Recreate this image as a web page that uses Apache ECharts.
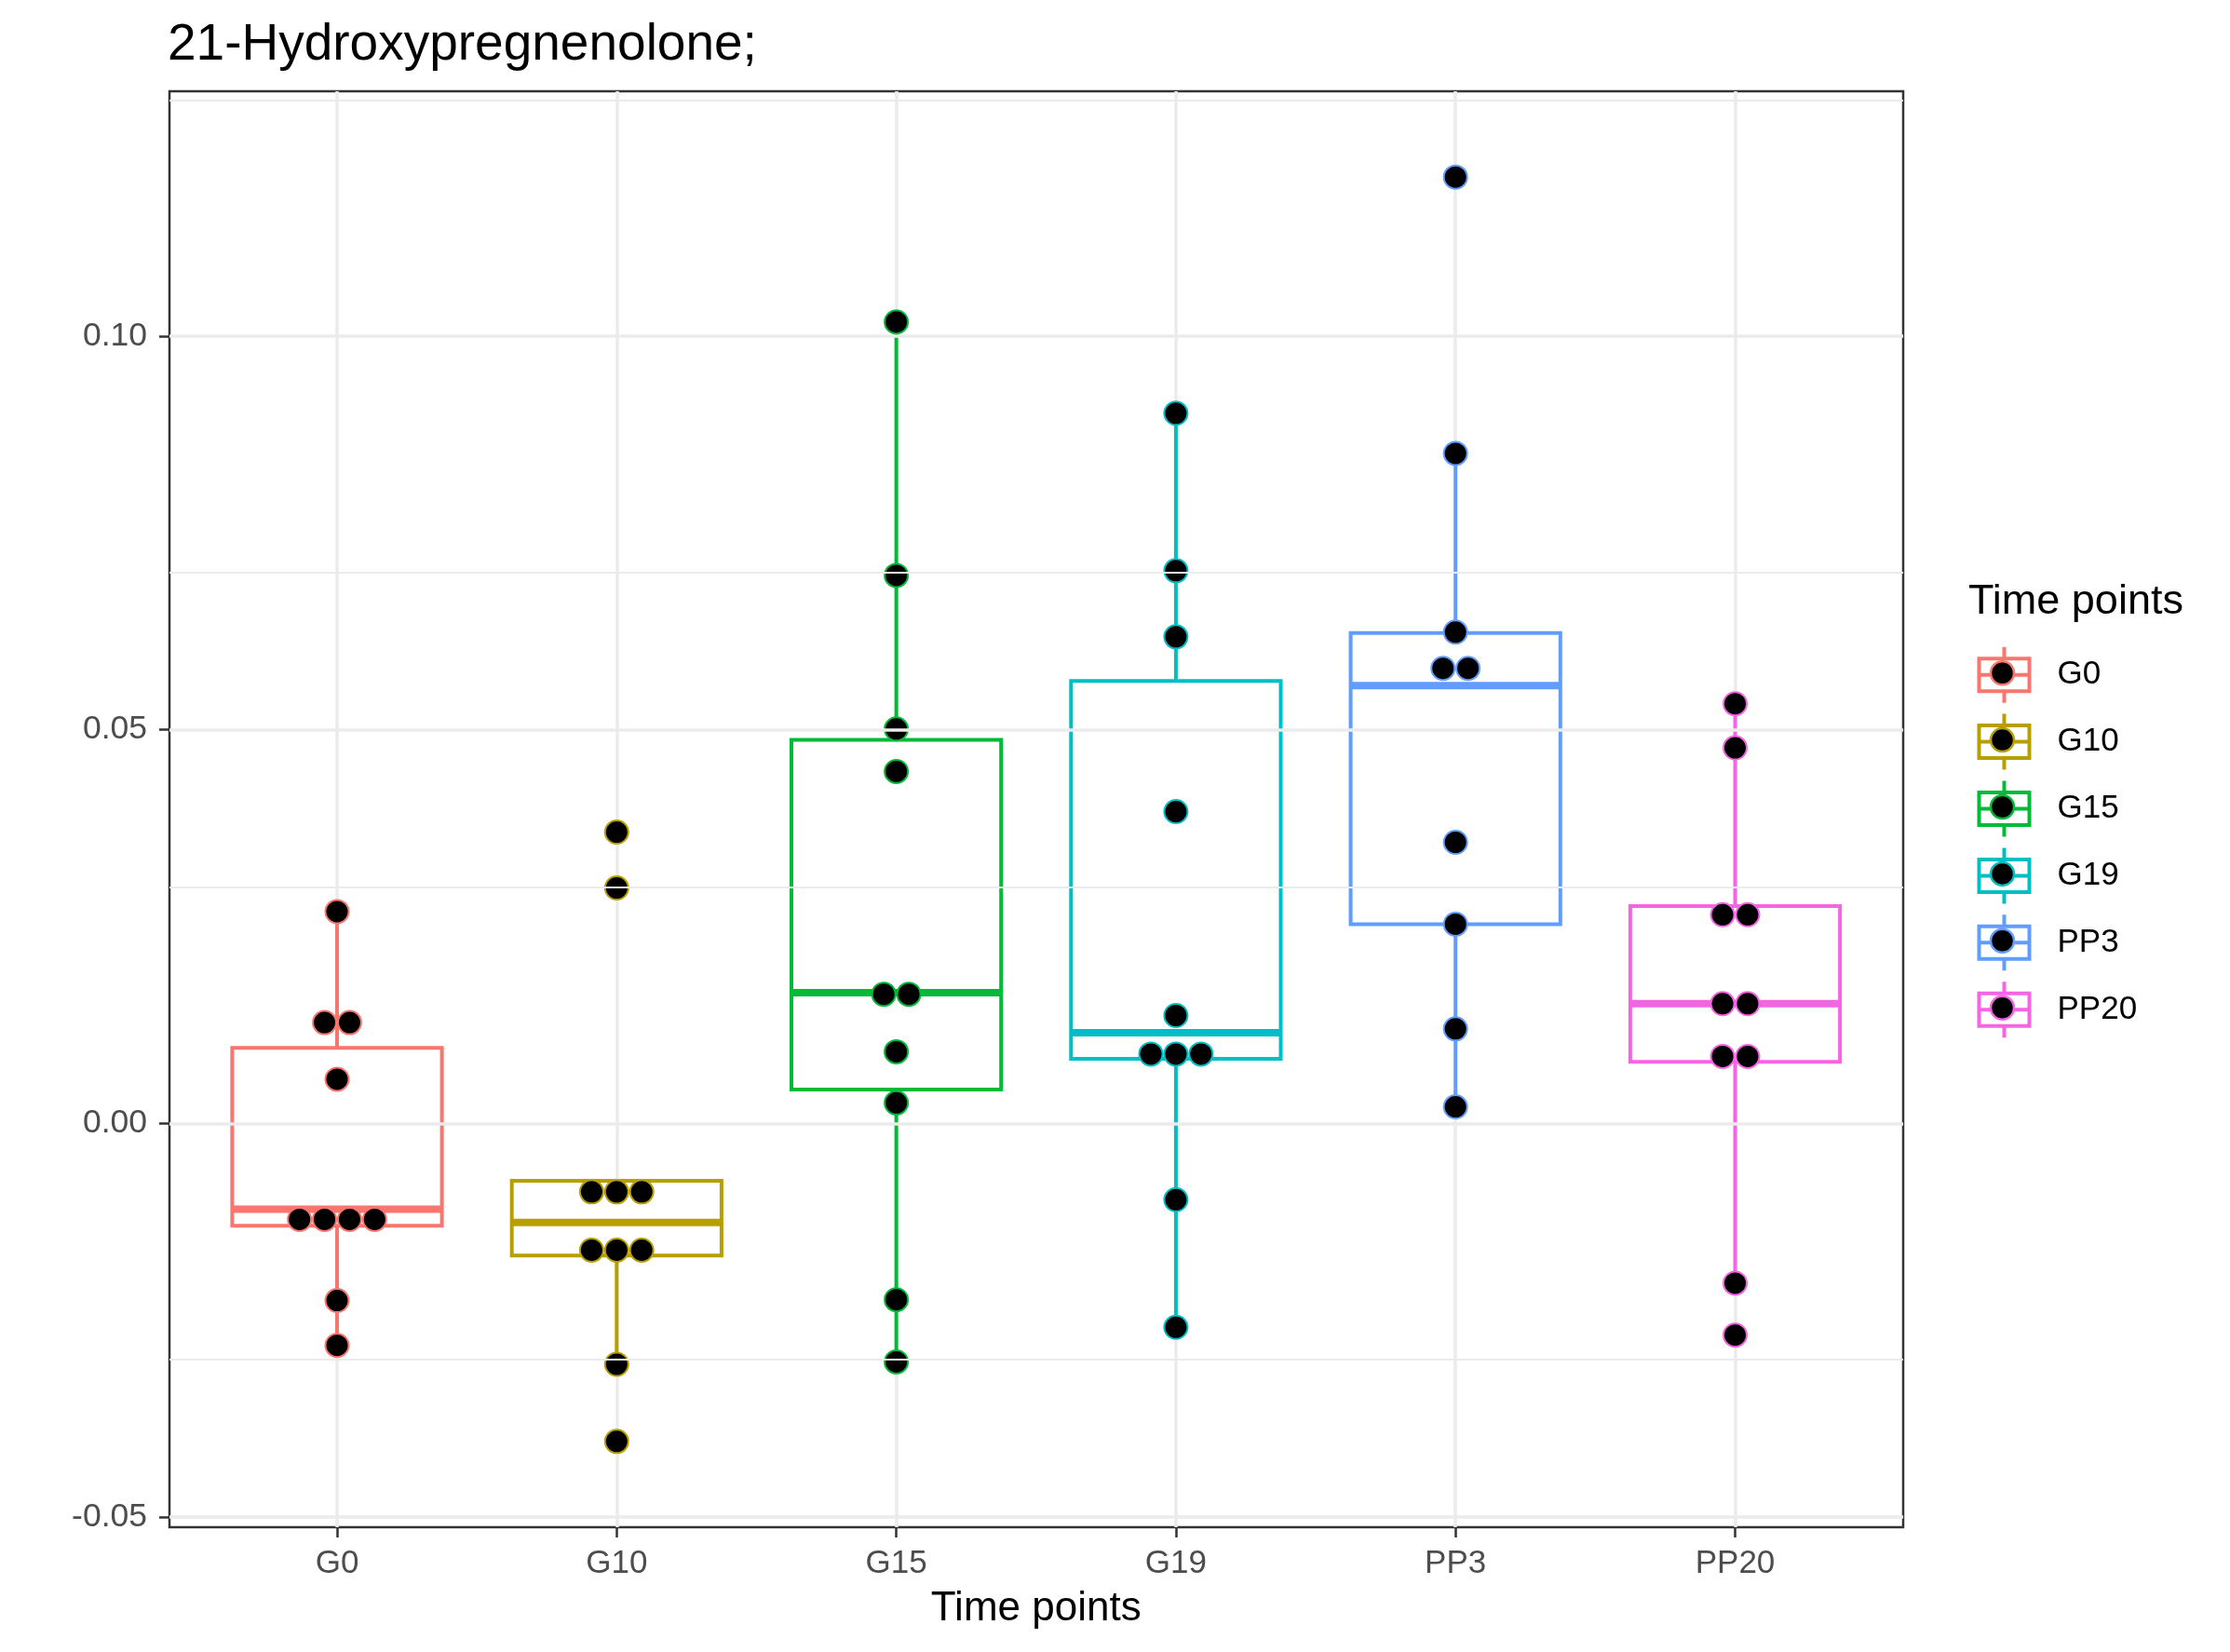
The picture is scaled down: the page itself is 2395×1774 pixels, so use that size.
<!DOCTYPE html>
<html><head><meta charset="utf-8">
<script src="https://cdn.jsdelivr.net/npm/echarts@6/dist/echarts.min.js"></script>
<style>html,body{margin:0;padding:0;background:#fff}#chart{width:2395px;height:1774px}</style>
</head><body><div id="chart"></div>
<script>
const categories = ['G0', 'G10', 'G15', 'G19', 'PP3', 'PP20'];
const colors = ['#F8766D', '#B79F00', '#00BA38', '#00BFC4', '#619CFF', '#F564E3'];

// individual observations (repeated values are stacked side by side, as in the dot plot)
const valuesG0 = [0.0269, 0.0128, 0.0128, 0.0056, -0.0122, -0.0122, -0.0122, -0.0122, -0.0225, -0.0282];
const valuesG10 = [0.0370, 0.0299, -0.0087, -0.0087, -0.0087, -0.0161, -0.0161, -0.0161, -0.0306, -0.0404];
const valuesG15 = [0.1018, 0.0696, 0.0501, 0.0447, 0.0164, 0.0164, 0.0091, 0.0026, -0.0224, -0.0303];
const valuesG19 = [0.0902, 0.0702, 0.0618, 0.0396, 0.0137, 0.0088, 0.0088, 0.0088, -0.0097, -0.0259];
const valuesPP3 = [0.1202, 0.0851, 0.0624, 0.0578, 0.0578, 0.0357, 0.0253, 0.0120, 0.0021];
const valuesPP20 = [0.0533, 0.0477, 0.0265, 0.0265, 0.0152, 0.0152, 0.0085, 0.0085, -0.0203, -0.0269];

// box statistics: [lower whisker, Q1, median, Q3, upper whisker]
const boxG0 = [-0.0282, -0.0130, -0.0109, 0.0096, 0.0269];
const boxG10 = [-0.0306, -0.0168, -0.0126, -0.0073, -0.0073];
const boxG15 = [-0.0303, 0.0043, 0.0166, 0.0487, 0.1018];
const boxG19 = [-0.0259, 0.0082, 0.0115, 0.0562, 0.0902];
const boxPP3 = [0.0021, 0.0253, 0.0556, 0.0623, 0.0851];
const boxPP20 = [-0.0203, 0.0078, 0.0152, 0.0276, 0.0533];

const yTicks = [-0.05, 0, 0.05, 0.10];
const yMinorTicks = [-0.025, 0.025, 0.075, 0.125];
const yRange = [-0.0513, 0.1311];

const allValues = [valuesG0, valuesG10, valuesG15, valuesG19, valuesPP3, valuesPP20];
const allBoxes = [boxG0, boxG10, boxG15, boxG19, boxPP3, boxPP20];

const FONT = '"Liberation Sans", Arial, Helvetica, sans-serif';
const DOT = 26.9;

function stackDots(vals, i) {
  const order = [];
  const counts = {};
  vals.forEach(v => { const k = String(v); if (!(k in counts)) { counts[k] = 0; order.push(v); } counts[k]++; });
  const out = [];
  order.forEach(v => {
    const n = counts[String(v)];
    for (let k = 0; k < n; k++) {
      out.push({ value: [i, v], symbolOffset: [(k - (n - 1) / 2) * DOT, 0] });
    }
  });
  return out;
}

const ICON = 'path://M27,0L27,12.5M0,12.5L54,12.5L54,47.5L0,47.5ZM0,30L54,30M27,47.5L27,60';
const LEG_TOP = 692.7, LEG_STEP = 71.9;

const chart = echarts.init(document.getElementById('chart'), null, { renderer: 'canvas' });

const series = [
  {
    type: 'line', name: '_grid', xAxisIndex: 0, yAxisIndex: 0, data: [], z: 1, silent: true,
    markLine: {
      silent: true, symbol: ['none', 'none'], label: { show: false }, animation: false,
      lineStyle: { color: '#EBEBEB', type: 'solid' },
      emphasis: { disabled: true },
      data: yMinorTicks.map(v => ({ yAxis: v, lineStyle: { width: 1.8, color: '#EBEBEB', type: 'solid' } }))
        .concat(yTicks.map(v => ({ yAxis: v, lineStyle: { width: 3.5, color: '#EBEBEB', type: 'solid' } })))
    }
  },
  {
    type: 'custom', name: 'box', xAxisIndex: 1, yAxisIndex: 1, z: 2, clip: false, silent: true,
    data: allBoxes.map((b, i) => [i].concat(b)),
    encode: { x: 0, y: [1, 2, 3, 4, 5] },
    renderItem: function (params, api) {
      const i = api.value(0);
      const lo = api.coord([i, api.value(1)]);
      const q1 = api.coord([i, api.value(2)]);
      const md = api.coord([i, api.value(3)]);
      const q3 = api.coord([i, api.value(4)]);
      const hi = api.coord([i, api.value(5)]);
      const band = Math.abs(api.coord([1, 0])[0] - api.coord([0, 0])[0]);
      const hw = band * 0.75 / 2;
      const cx = md[0];
      const col = colors[i];
      return {
        type: 'group', children: [
          { type: 'line', shape: { x1: cx, y1: q3[1], x2: cx, y2: hi[1] }, style: { stroke: col, lineWidth: 4 } },
          { type: 'line', shape: { x1: cx, y1: q1[1], x2: cx, y2: lo[1] }, style: { stroke: col, lineWidth: 4 } },
          { type: 'rect', shape: { x: cx - hw, y: q3[1], width: 2 * hw, height: q1[1] - q3[1] }, style: { fill: '#fff', stroke: col, lineWidth: 4 } },
          { type: 'line', shape: { x1: cx - hw, y1: md[1], x2: cx + hw, y2: md[1] }, style: { stroke: col, lineWidth: 8 } }
        ]
      };
    }
  }
].concat(categories.map((c, i) => ({
  type: 'scatter', name: c, xAxisIndex: 1, yAxisIndex: 1, z: 3, clip: false,
  symbol: 'circle', symbolSize: 25,
  itemStyle: { color: '#000', borderColor: colors[i], borderWidth: 2, opacity: 1 },
  emphasis: { disabled: true },
  data: stackDots(allValues[i], i)
})));

chart.setOption({
  animation: false,
  backgroundColor: '#fff',
  textStyle: { fontFamily: FONT },
  title: [
    { text: '21-Hydroxypregnenolone;', left: 180, top: 21, padding: 0,
      textStyle: { fontSize: 55, fontWeight: 'normal', color: '#000', fontFamily: FONT } },
    { text: 'Time points', left: 2114, top: 624, padding: 0,
      textStyle: { fontSize: 45, fontWeight: 'normal', color: '#000', fontFamily: FONT } }
  ],
  legend: {
    orient: 'vertical', left: 2123.5, top: LEG_TOP, padding: 0,
    itemWidth: 54, itemHeight: 60, itemGap: 7.9,
    selectedMode: false,
    itemStyle: { color: '#fff', borderWidth: 4 },
    textStyle: { fontSize: 35, color: '#000', fontFamily: FONT, padding: [0, 0, 0, 25] },
    data: categories.map(c => ({ name: c, icon: ICON }))
  },
  graphic: categories.map((c, i) => ({
    type: 'circle', silent: true, z: 100,
    shape: { cx: 2150.5, cy: LEG_TOP + 30 + i * LEG_STEP, r: 12.5 },
    style: { fill: '#000', stroke: colors[i], lineWidth: 2.5 }
  })),
  grid: [
    { left: 182, top: 98, width: 1862, height: 1542, show: true, borderColor: '#333333', borderWidth: 2.5, backgroundColor: 'transparent', containLabel: false },
    { left: 362, top: 98, width: 1501.5, height: 1542, show: false, containLabel: false }
  ],
  xAxis: [
    { type: 'value', gridIndex: 0, min: 0, max: 1, show: false, axisLine: { onZero: false } },
    {
      type: 'category', gridIndex: 1, data: categories, boundaryGap: false, position: 'bottom',
      axisLine: { show: false, onZero: false },
      axisTick: { show: true, length: 11, interval: 0, lineStyle: { color: '#333333', width: 2.5 } },
      axisLabel: { interval: 0, fontSize: 35, color: '#4D4D4D', margin: 22, fontFamily: FONT },
      splitLine: { show: true, interval: 0, lineStyle: { color: '#EBEBEB', width: 3.5 } },
      name: 'Time points', nameLocation: 'middle', nameGap: 66,
      nameTextStyle: { fontSize: 44, color: '#000', fontFamily: FONT }
    }
  ],
  yAxis: [
    {
      type: 'value', gridIndex: 0, min: yRange[0], max: yRange[1],
      axisLine: { show: false, onZero: false },
      axisTick: { show: true, length: 11, customValues: yTicks, lineStyle: { color: '#333333', width: 2.5 } },
      axisLabel: { customValues: yTicks, fontSize: 35.5, color: '#4D4D4D', margin: 24, fontFamily: FONT,
        formatter: v => Number(v).toFixed(2) },
      splitLine: { show: false }
    },
    { type: 'value', gridIndex: 1, min: yRange[0], max: yRange[1], show: false, axisLine: { onZero: false }, splitLine: { show: false } }
  ],
  series: series
});
</script>
</body></html>
